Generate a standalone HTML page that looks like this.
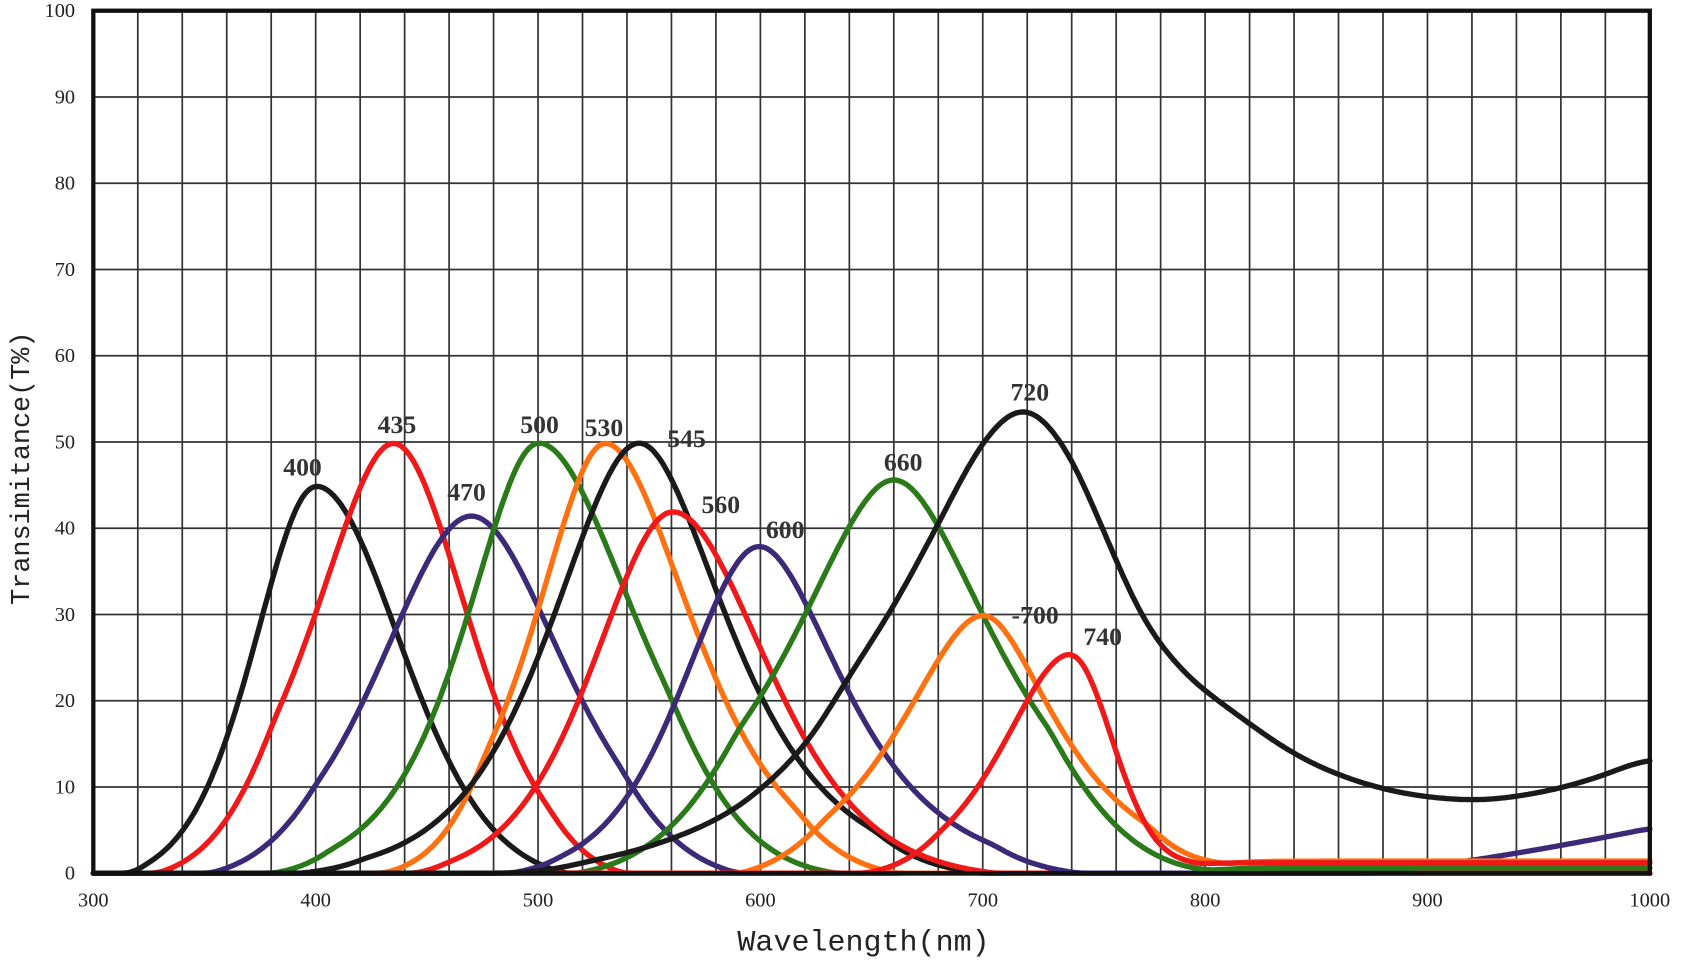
<!DOCTYPE html>
<html><head><meta charset="utf-8"><style>
html,body{margin:0;padding:0;background:#fff;}
svg{display:block;}
</style></head><body>
<svg id="s" width="1682" height="960" viewBox="0 0 1568 896" preserveAspectRatio="none" xmlns="http://www.w3.org/2000/svg">
<rect width="1568" height="896" fill="#fff"/>
<g id="grid" stroke="#333" stroke-width="1.6"></g>
<g id="curves" fill="none" stroke-width="5" stroke-linejoin="round" stroke-linecap="round"></g>
<rect x="87" y="10" width="1451" height="805" fill="none" stroke="#111" stroke-width="4"/>
<g id="ticks" style="font-family:'Liberation Serif',serif;font-size:19px" fill="#222"></g>
<g style="font-family:'Liberation Serif',serif;font-size:24px;font-weight:bold" fill="#333" text-anchor="middle">
<text x="282" y="444">400</text><text x="370" y="404">435</text><text x="435" y="467">470</text>
<text x="503" y="404">500</text><text x="563" y="407">530</text><text x="640" y="417">545</text>
<text x="672" y="479">560</text><text x="732" y="502">600</text><text x="842" y="439">660</text>
<text x="960" y="374">720</text><text x="965" y="582">-700</text><text x="1028" y="602">740</text>
</g>
<text x="805" y="887" style="font-family:'Liberation Mono',monospace;font-size:28px" text-anchor="middle" fill="#222">Wavelength(nm)</text>
<text transform="translate(27,437) rotate(-90)" style="font-family:'Liberation Mono',monospace;font-size:25px" text-anchor="middle" fill="#222">Transimitance(T%)</text>
</svg>
<script>
const X=w=>87+(w-300)*1451/700, Y=v=>815-v*8.05;
let g='';
for(let w=320;w<1000;w+=20)g+=`<line x1="${X(w)}" y1="10" x2="${X(w)}" y2="815"/>`;
for(let v=10;v<100;v+=10)g+=`<line x1="87" y1="${Y(v)}" x2="1538" y2="${Y(v)}"/>`;
document.getElementById('grid').innerHTML=g;
let t='';
for(let v=0;v<=100;v+=10)t+=`<text x="70" y="${Y(v)+6}" text-anchor="end">${v}</text>`;
for(let w=300;w<=1000;w+=100)t+=`<text x="${X(w)}" y="846" text-anchor="middle">${w}</text>`;
document.getElementById('ticks').innerHTML=t;
function gs(p,h,al,bl,cl,ar,br,cr_,off){off=off||1;return w=>{let d=Math.abs(w-p);let s=w<p?Math.min(cl,al+bl*d):Math.min(cr_,ar+br*d);let v=h*Math.exp(-d*d/(2*s*s));return Math.max(0,(v-off)*h/(h-off));};}
const sig=(c,k)=>w=>1/(1+Math.exp(-(w-c)/k));
function path(f,col,sg){sg=sg||2.5;const a=300,b=1000;let ws=[],vs=[];for(let w=a;w<=b;w+=1){ws.push(w);vs.push(Math.max(0,f(w)));}
 let sm=[],r=Math.ceil(sg*3);for(let i=0;i<vs.length;i++){let s=0,n=0;for(let k=-r;k<=r;k++){let j=i+k;if(j<0||j>=vs.length)continue;let wt=Math.exp(-k*k/(2*sg*sg));s+=vs[j]*wt;n+=wt;}sm.push(s/n);}
 let d='';for(let i=0;i<ws.length;i++)d+=(i?'L':'M')+X(ws[i]).toFixed(1)+','+Y(sm[i]).toFixed(1);return `<path d="${d}" stroke="${col}"/>`;}
function cr(pts){return w=>{if(w<pts[0][0])return 0;for(let i=0;i<pts.length-1;i++){if(w>=pts[i][0]&&w<=pts[i+1][0]){let p0=pts[Math.max(0,i-1)],p1=pts[i],p2=pts[i+1],p3=pts[Math.min(pts.length-1,i+2)];let u=(w-p1[0])/(p2[0]-p1[0]);let m1=(p2[1]-p0[1])/(p2[0]-p0[0])*(p2[0]-p1[0]),m2=(p3[1]-p1[1])/(p3[0]-p1[0])*(p2[0]-p1[0]);let u2=u*u,u3=u2*u;return (2*u3-3*u2+1)*p1[1]+(u3-2*u2+u)*m1+(-2*u3+3*u2)*p2[1]+(u3-u2)*m2;}}return pts[pts.length-1][1];};}
const K='#1a1a1a',R='#f01818',P='#3c2a78',G='#2a7a1a',O='#ff7010';
let c='';
c+=path(gs(400,45,25,0.08,31,36,0.05,42,1.2),K);
c+=path(gs(435,50,30,0.15,38,30,0.1,37,1),R);
c+=path(gs(470,41.5,36,0.1,43,36,0.12,44,1),P);
c+=path(gs(500,50,27,0.14,40,38,0.12,45,0.6),G);
c+=path(gs(530,50,26,0.15,34,33,0.14,45,0.7),O);
c+=path(gs(545.5,50,33,0.13,49,32,0.17,50,0.4),K);
c+=path(gs(560.5,42,31,0.1,41,37,0.1,55,0.8),R);
c+=path(w=>gs(599.5,38,30,0.09,38,30,0.18,49,0.5)(w)+5.2*Math.pow(Math.max(0,w-870)/130,1.3),P);
c+=path(w=>gs(660,45.7,36,0.2,50,36,0.2,50,0.8)(w)+0.6*sig(800,8)(w),G);
c+=path(w=>gs(700.4,30,30,0.17,42,25,0.23,42,1)(w)+1.4*sig(800,8)(w),O);
c+=path(w=>gs(739.5,25.5,26,0.12,33,18,0.05,22,0.5)(w)+1.2*sig(785,6)(w),R);
c+=path(cr([[488,0],[505,0.4],[520,1.2],[550,3.1],[580,6.2],[600,9.7],[622,15.5],[640,22.9],[660,31],[680,40.5],[700,50],[719,54],[738,49],[753,40.5],[771,30],[789,23.7],[808,19.6],[844,13.3],[880,9.8],[918,8.5],[947,9.2],[975,11],[1000,13.5],[1010,14.5]]),K,6);
document.getElementById('curves').innerHTML=c;
</script>
</body></html>
